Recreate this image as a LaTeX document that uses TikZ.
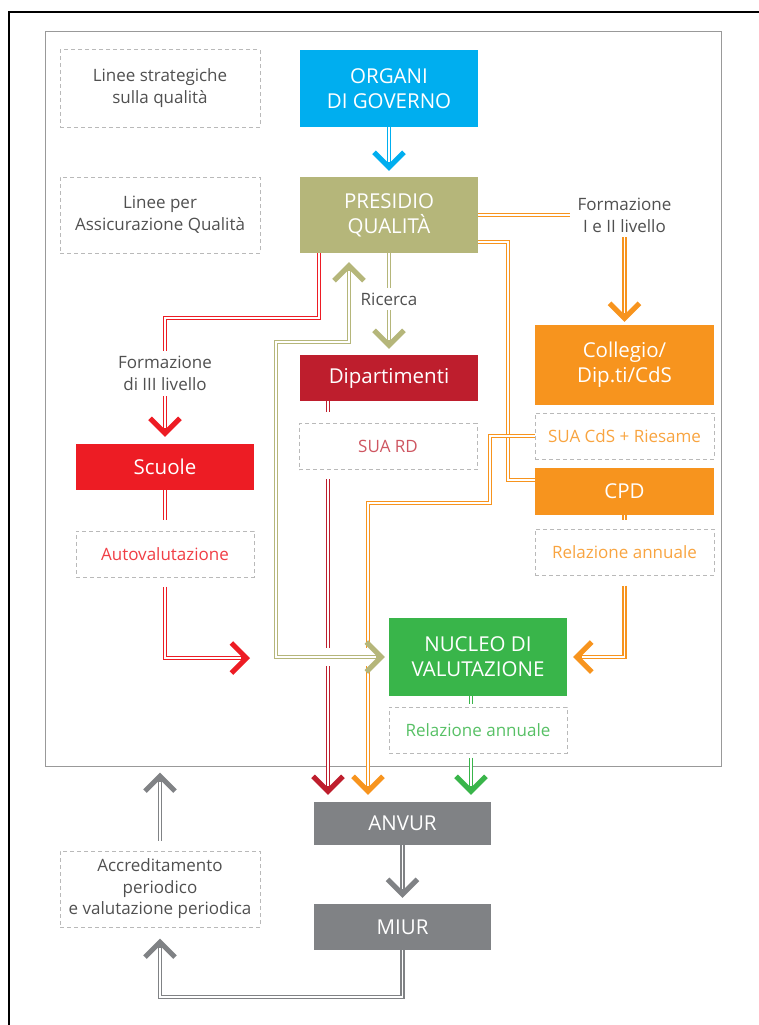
\documentclass[tikz,border=0pt]{standalone}
\usepackage{fontspec}
\setmainfont{Open Sans}
\usepackage{xcolor}
\usepackage{tikz}
\usetikzlibrary{arrows.meta}
\definecolor{cBlue}{RGB}{0,174,239}
\definecolor{cOlive}{RGB}{181,182,122}
\definecolor{cCrimson}{RGB}{190,30,45}
\definecolor{cRed}{RGB}{237,28,36}
\definecolor{cOrange}{RGB}{247,148,30}
\definecolor{cGreen}{RGB}{57,181,74}
\definecolor{cGrey}{RGB}{128,130,133}
\definecolor{txtGrey}{RGB}{80,80,80}

\begin{document}
\begin{tikzpicture}[x=1pt, y=-1pt,
  chev/.tip={Straight Barb[length=15pt, width=30pt, line width=5pt]},
  box/.style={fill=#1, text=white, minimum width=178pt, align=center, inner sep=0pt, font=\fontsize{20.5}{25}\selectfont},
  note/.style={draw=gray!55, dash pattern=on 4pt off 3pt, line width=1pt, minimum width=178pt, minimum height=46pt, align=center, inner sep=0pt, text=#1, font=\fontsize{17}{22}\selectfont},
  lbl/.style={fill=white, align=center, text=txtGrey, inner xsep=8pt, inner ysep=5pt, font=\fontsize{17}{22}\selectfont},
  dbl/.style={draw=#1, line width=4.6pt},
  gap/.style={postaction={draw=white, line width=1.5pt, arrows=-, #1}}
]
  \useasboundingbox (0,0) rectangle (759,1025);
  \draw[black, line width=1.2pt] (9,1040) |- (780,12);
  \node[draw=gray!80, line width=1pt, minimum width=676pt, minimum height=734pt] (frame) at (383,399) {};

  \node[note=txtGrey, minimum width=200pt, minimum height=77pt] (lqual) at (160,88.5) {Linee strategiche\\sulla qualità};
  \node[note=txtGrey, minimum width=200pt, minimum height=76pt] (lassic) at (160,215) {Linee per\\Assicurazione Qualità};
  \node[box=cBlue, minimum height=77pt] (organi) at (389,88.5) {ORGANI\\DI GOVERNO};
  \node[box=cOlive, minimum height=76pt] (presidio) at (389,215) {PRESIDIO\\QUALITÀ};
  \node[box=cCrimson, minimum height=46pt] (dip) at (389,378) {Dipartimenti};
  \node[note=cCrimson!75] (suard) at (388,446.5) {SUA RD};
  \node[box=cRed, minimum height=46pt] (scuole) at (165,467) {Scuole};
  \node[note=cRed!85] (autoval) at (165,554) {Autovalutazione};
  \node[box=cOrange, minimum width=179pt, minimum height=80pt] (collegio) at (624.5,365) {Collegio/\\Dip.ti/CdS};
  \node[note=cOrange!85, minimum width=179pt] (suacds) at (624.5,436) {SUA CdS + Riesame};
  \node[box=cOrange, minimum width=179pt, minimum height=47pt] (cpd) at (624.5,491.5) {CPD};
  \node[note=cOrange!85, minimum width=179pt] (relcpd) at (624.5,552) {Relazione annuale};
  \node[box=cGreen, minimum height=78pt] (nucleo) at (478,657) {NUCLEO DI\\VALUTAZIONE};
  \node[note=cGreen!85] (relnv) at (478,730) {Relazione annuale};
  \node[box=cGrey, minimum width=177pt, minimum height=43pt] (anvur) at (402.5,823.5) {ANVUR};
  \node[box=cGrey, minimum width=177pt, minimum height=46pt] (miur) at (402.5,927) {MIUR};
  \node[note=txtGrey, minimum width=200pt, minimum height=76pt, font=\fontsize{17}{21.5}\selectfont] (accred) at (160,889) {Accreditamento\\periodico\\e valutazione periodica};

  \coordinate (rdA) at (319,318);
  \coordinate (rdX) at (328,0);
  \coordinate (rdEnd) at (250,658);
  \coordinate (orB) at (508,242);
  \coordinate (orC) at (508,480);
  \coordinate (orD) at (490,503);
  \coordinate (orE) at (368,503);
  \coordinate (grX) at (471,0);
  \coordinate (gyA) at (160,997);
  \coordinate (olA) at (276,342);
  \coordinate (olB) at (349,342);

  \draw[dbl=cBlue, -chev, shorten >=6pt, gap={shorten >=15pt}] (organi) -- (presidio);
  \draw[dbl=cOlive, -chev, shorten >=6pt, gap={shorten >=15pt}] (presidio) -- node[lbl, pos=0.45] {Ricerca} (dip);
  \draw[dbl=cRed, -chev, shorten >=7pt, gap={shorten >=16pt}] (presidio.south -| rdA) -- (rdA) -| node[lbl, pos=0.72] {Formazione\\di III livello} (scuole.north);
  \draw[dbl=cRed, shorten >=11pt, gap={shorten >=11pt}] (scuole) -- (autoval);
  \draw[dbl=cRed, -chev, shorten <=9pt, gap={shorten <=9pt, shorten >=9pt}] (autoval.south) |- (rdEnd);
  \draw[dbl=cCrimson, shorten >=11pt, gap={shorten >=11pt}] (dip.south -| rdX) -- (suard.north -| rdX);
  \draw[dbl=cCrimson, -chev, shorten <=9pt, shorten >=7pt, gap={shorten <=9pt, shorten >=16pt}] (suard.south -| rdX) -- (anvur.north -| rdX);

  \draw[dbl=cOrange, -chev, shorten >=3pt, gap={shorten >=12pt}] (presidio.east) -| node[lbl] {Formazione\\I e II livello} (collegio.north);
  \draw[dbl=cOrange, gap] (presidio.east |- orB) -- (orB) -- (orC) -- (orC -| cpd.west);
  \draw[dbl=cOrange, -chev, shorten >=7pt, gap={shorten >=16pt}] (suacds.west) -| (orD) -- (orE) -- (anvur.north -| orE);
  \draw[dbl=cOrange, shorten >=9pt, gap={shorten >=9pt}] (cpd) -- (relcpd);
  \draw[dbl=cOrange, -chev, shorten <=10pt, shorten >=6pt, gap={shorten <=10pt, shorten >=15pt}] (relcpd.south) |- (nucleo.east);

  \draw[dbl=cGreen, shorten >=3pt, gap={shorten >=3pt}] (nucleo.south -| grX) -- (relnv.north -| grX);
  \draw[dbl=cGreen, -chev, shorten <=4pt, shorten >=7pt, gap={shorten <=4pt, shorten >=16pt}] (relnv.south -| grX) -- (anvur.north -| grX);

  \draw[white, line width=18pt, shorten >=4pt] (olA) |- (nucleo.west);
  \draw[dbl=cOlive, chev-chev, shorten <=9pt, shorten >=4pt, gap={shorten <=18pt, shorten >=13pt}] (olB |- presidio.south) -- (olB) -- (olA) |- (nucleo.west);

  \draw[dbl=cGrey, -chev, shorten >=6pt, gap={shorten >=15pt}] (anvur) -- (miur);
  \draw[dbl=cGrey, -chev, shorten >=11pt, gap={shorten >=20pt}] (miur.south) |- (gyA) -- (accred.south);
  \draw[dbl=cGrey, -chev, shorten <=10pt, shorten >=6pt, gap={shorten <=10pt, shorten >=15pt}] (accred.north) -- (accred.north |- frame.south);
\end{tikzpicture}
\end{document}
